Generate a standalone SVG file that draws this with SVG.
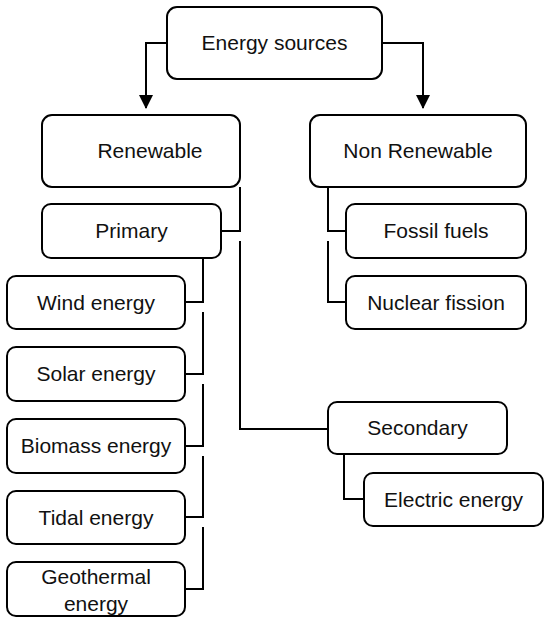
<svg xmlns="http://www.w3.org/2000/svg" width="550" height="623" viewBox="0 0 550 623">
<defs>
<style>
.box{fill:#fff;stroke:#000;stroke-width:2}
.t{font-family:"Liberation Sans",Arial,sans-serif;font-size:21px;fill:#111;text-anchor:middle;dominant-baseline:central}
.c{fill:none;stroke:#000;stroke-width:2}
</style>
<marker id="arr" viewBox="0 0 14 14" refX="13" refY="7" markerWidth="14" markerHeight="14" markerUnits="userSpaceOnUse" orient="auto">
<path d="M0,0 L14,7 L0,14 Z" fill="#000"/>
</marker>
</defs>
<rect width="550" height="623" fill="#fff"/>
<g id="connectors">
<path class="c" d="M167,43 H146 V108" marker-end="url(#arr)"/>
<path class="c" d="M382,43 H423 V108" marker-end="url(#arr)"/>
<path class="c" d="M221,231 H240 V187"/>
<path class="c" d="M240,241 V429 H328"/>
<path class="c" d="M203,258 V302 H185"/>
<path class="c" d="M203,312 V374 H185"/>
<path class="c" d="M203,384 V446 H185"/>
<path class="c" d="M203,456 V517 H185"/>
<path class="c" d="M203,527 V589 H185"/>
<path class="c" d="M328,187 V231 H346"/>
<path class="c" d="M328,241 V302 H346"/>
<path class="c" d="M344,454 V499 H364"/>
</g>
<g id="energy-sources"><rect class="box" x="167" y="7" width="215" height="72" rx="10"/><text class="t" x="274.5" y="42.5">Energy sources</text></g>
<g id="renewable"><rect class="box" x="42" y="115" width="198" height="72" rx="10"/><text class="t" x="150" y="150.5">Renewable</text></g>
<g id="non-renewable"><rect class="box" x="310" y="115" width="216" height="72" rx="10"/><text class="t" x="418" y="150.5">Non Renewable</text></g>
<g id="primary"><rect class="box" x="42" y="204" width="179" height="54" rx="9"/><text class="t" x="131.5" y="230.5">Primary</text></g>
<g id="wind"><rect class="box" x="7" y="276" width="178" height="53" rx="9"/><text class="t" x="96" y="302">Wind energy</text></g>
<g id="solar"><rect class="box" x="7" y="347" width="178" height="54" rx="9"/><text class="t" x="96" y="373.5">Solar energy</text></g>
<g id="biomass"><rect class="box" x="7" y="419" width="178" height="54" rx="9"/><text class="t" x="96" y="445.5">Biomass energy</text></g>
<g id="tidal"><rect class="box" x="7" y="491" width="178" height="53" rx="9"/><text class="t" x="96" y="517">Tidal energy</text></g>
<g id="geothermal"><rect class="box" x="7" y="562" width="178" height="54" rx="9"/><text class="t" x="96" y="576">Geothermal</text><text class="t" x="96" y="603">energy</text></g>
<g id="fossil"><rect class="box" x="346" y="204" width="180" height="54" rx="9"/><text class="t" x="436" y="230.5">Fossil fuels</text></g>
<g id="nuclear"><rect class="box" x="346" y="276" width="180" height="53" rx="9"/><text class="t" x="436" y="302">Nuclear fission</text></g>
<g id="secondary"><rect class="box" x="328" y="402" width="179" height="52" rx="9"/><text class="t" x="417.5" y="427.5">Secondary</text></g>
<g id="electric"><rect class="box" x="364" y="473" width="179" height="53" rx="9"/><text class="t" x="453.5" y="499">Electric energy</text></g>
</svg>
